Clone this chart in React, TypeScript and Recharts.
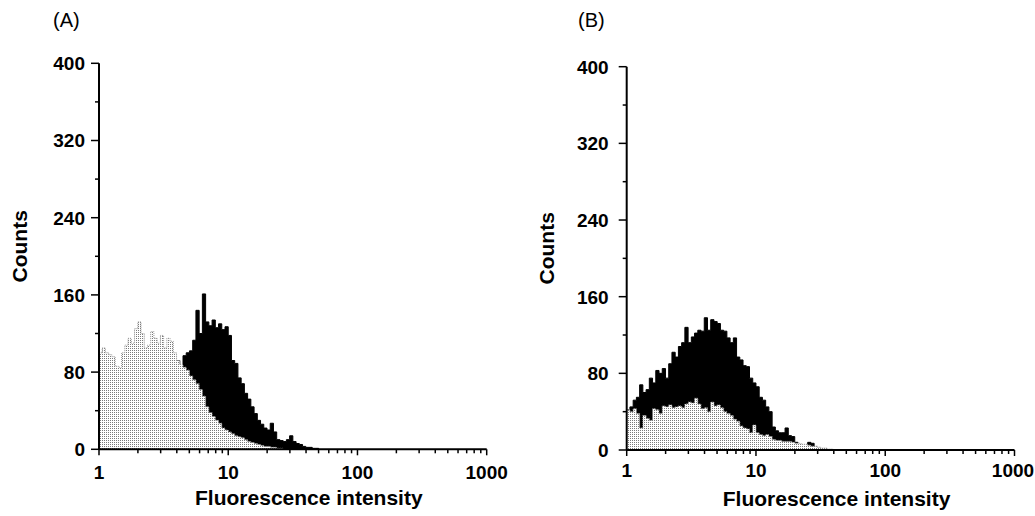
import React from 'react'
import { ComposedChart, Area, XAxis, YAxis } from 'recharts'

// histogram channels: 40 per decade, starting at intensity 1
const channelsPerDecade = 40

// panel A
const grayA = [
  100, 105, 100, 98, 96, 86, 85, 100, 108, 115,
  110, 125, 132, 120, 105, 108, 122, 115, 110, 118,
  105, 115, 112, 100, 92, 88, 85, 82, 76, 72,
  68, 62, 55, 44, 38, 34, 30, 27, 22, 20,
  18, 16, 14, 13, 12, 10, 8, 7, 6, 5,
  4, 3, 3, 2, 2, 1, 1, 0,
]
const blackA = [
  null, null, null, null, null, null, null, null, null, null,
  null, null, null, null, null, null, null, null, null, null,
  null, null, null, null, 92, 86, 97, 100, 102, 113,
  144, 120, 161, 132, 128, 134, 126, 130, 124, 127,
  118, 92, 89, 74, 68, 58, 52, 44, 37, 30,
  26, 22, 20, 27, 18, 10, 9, 8, 10, 14,
  8, 6, 5, 3, 2, 2, 1, 1, 0,
]

// panel B
const grayB = [
  42, 40, 43, 38, 23, 36, 33, 31, 43, 42,
  38, 46, 45, 47, 44, 45, 46, 44, 48, 50,
  49, 54, 48, 43, 44, 40, 50, 46, 47, 44,
  40, 38, 36, 32, 30, 25, 23, 22, 18, 26,
  18, 16, 15, 16, 14, 11, 10, 10, 9, 9,
  9, 8, 7, 7, 6, 6, 5, 4, 4, 3,
  2, 2, 1, 1, 0,
]
const blackB = [
  42, 45, 52, 55, 68, 60, 63, 75, 70, 83,
  80, 85, 75, 90, 102, 97, 108, 112, 128, 112,
  118, 122, 125, 124, 138, 125, 136, 134, 132, 125,
  124, 117, 112, 117, 97, 94, 88, 87, 75, 70,
  66, 55, 52, 45, 40, 24, 20, 18, 18, 23,
  15, 14, 8, 5, 4, 2, 8, 7, 3, 2,
  0,
]

const xMajor = [1, 10, 100, 1000]
const xMinor = [2, 3, 4, 5, 6, 7, 8, 9, 20, 30, 40, 50, 60, 70, 80, 90, 200, 300, 400, 500, 600, 700, 800, 900]
const yMajor = [0, 80, 160, 240, 320, 400]
const yMinor = [40, 120, 200, 280, 360]

const FONT = 'Arial, "Liberation Sans", Helvetica, sans-serif'

function buildRows(black: (number | null)[], gray: (number | null)[]) {
  const n = Math.max(black.length, gray.length)
  return Array.from({ length: n }, (_, i) => ({
    channel: Math.pow(10, i / channelsPerDecade),
    black: black[i] ?? null,
    gray: gray[i] ?? null,
  }))
}

type PanelProps = {
  tag: string
  rows: { channel: number; black: number | null; gray: number | null }[]
  left: number
  width: number
  margin: { top: number; right: number; bottom: number; left: number }
  yLabelGap: number
  xLabelDrop: number
  patternId: string
}

function Panel({ tag, rows, left, width, margin, yLabelGap, xLabelDrop, patternId }: PanelProps) {
  const renderXTick = (p: any) => {
    const v = p.payload.value
    const major = xMajor.includes(v)
    const tx = Math.min(p.x, width - 22)
    return (
      <g>
        <line x1={p.x} x2={p.x} y1={p.y} y2={p.y + (major ? 6 : 4)} stroke="#000" strokeWidth={1.5} />
        {major && (
          <text x={tx} y={p.y + xLabelDrop} textAnchor="middle" fontFamily={FONT} fontWeight="bold" fontSize={19} fill="#000">
            {v}
          </text>
        )}
      </g>
    )
  }

  const renderYTick = (p: any) => {
    const v = p.payload.value
    const major = yMajor.includes(v)
    return (
      <g>
        <line x1={p.x - (major ? 8 : 4)} x2={p.x} y1={p.y} y2={p.y} stroke="#000" strokeWidth={1.5} />
        {major && (
          <text x={p.x - yLabelGap} y={p.y} dy="0.36em" textAnchor="end" fontFamily={FONT} fontWeight="bold" fontSize={19} fill="#000">
            {v}
          </text>
        )}
      </g>
    )
  }

  return (
    <div style={{ position: 'absolute', left, top: 0, width, height: 516 }}>
      <div style={{ position: 'absolute', left: tag === '(A)' ? 53 : 58, top: 9, fontFamily: FONT, fontSize: 20, color: '#000' }}>{tag}</div>
      <ComposedChart width={width} height={516} data={rows} margin={margin}>
        <defs>
          <pattern id={patternId} width="2" height="2" patternUnits="userSpaceOnUse">
            <rect width="2" height="2" fill="#fff" />
            <rect width="1" height="1" fill="#7a7a7a" />
          </pattern>
        </defs>
        <XAxis
          dataKey="channel"
          type="number"
          scale="log"
          domain={[1, 1000]}
          allowDataOverflow
          ticks={[...xMajor, ...xMinor]}
          interval={0}
          tickSize={0}
          tickMargin={0}
          tick={renderXTick}
          axisLine={{ stroke: '#000', strokeWidth: 2 }}
          height={60}
          label={{
            content: (lp: any) => {
              const vb = lp.viewBox
              return (
                <text x={vb.x + vb.width / 2 + 16} y={vb.y + 56} textAnchor="middle" fontFamily={FONT} fontWeight="bold" fontSize={21} fill="#000">
                  Fluorescence intensity
                </text>
              )
            },
          }}
        />
        <YAxis
          type="number"
          domain={[0, 400]}
          ticks={[...yMajor, ...yMinor]}
          interval={0}
          tickSize={0}
          tickMargin={0}
          tick={renderYTick}
          axisLine={{ stroke: '#000', strokeWidth: 2 }}
          width={91}
          label={{
            content: (lp: any) => {
              const vb = lp.viewBox
              const cx = vb.x + vb.width - 80
              const cy = vb.y + vb.height / 2 - 10
              return (
                <text x={cx} y={cy} dy="0.36em" transform={`rotate(-90 ${cx} ${cy})`} textAnchor="middle" fontFamily={FONT} fontWeight="bold" fontSize={21} fill="#000">
                  Counts
                </text>
              )
            },
          }}
        />
        <Area
          type="stepAfter"
          dataKey="black"
          fill="#000"
          fillOpacity={1}
          stroke="#000"
          strokeWidth={1}
          dot={false}
          activeDot={false}
          isAnimationActive={false}
        />
        <Area
          type="stepAfter"
          dataKey="gray"
          fill={`url(#${patternId})`}
          fillOpacity={1}
          stroke="#9a9a9a"
          strokeWidth={1}
          strokeDasharray="1 1"
          dot={false}
          activeDot={false}
          isAnimationActive={false}
        />
      </ComposedChart>
    </div>
  )
}

export default function App() {
  return (
    <div style={{ position: 'absolute', left: 0, top: 0, width: 1035, height: 516, background: '#fff', overflow: 'hidden' }}>
      <Panel
        tag="(A)"
        rows={buildRows(blackA, grayA)}
        left={0}
        width={517}
        margin={{ top: 63.3, right: 30.3, bottom: 6.7, left: 8 }}
        yLabelGap={14}
        xLabelDrop={30}
        patternId="dotsA"
      />
      <Panel
        tag="(B)"
        rows={buildRows(blackB, grayB)}
        left={520}
        width={515}
        margin={{ top: 66.7, right: 20.5, bottom: 6, left: 15.7 }}
        yLabelGap={18}
        xLabelDrop={27}
        patternId="dotsB"
      />
    </div>
  )
}
